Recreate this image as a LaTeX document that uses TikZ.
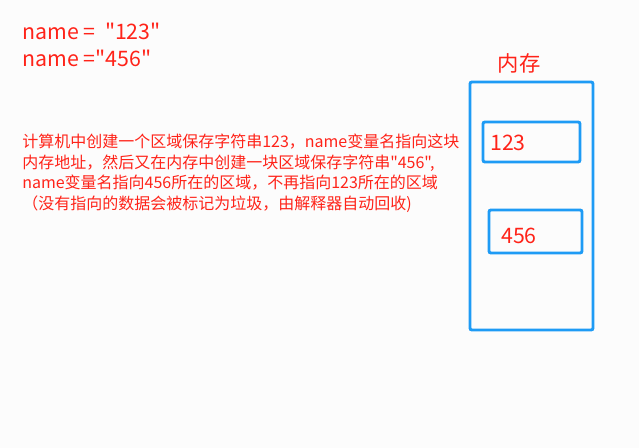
\documentclass[tikz,border=0pt]{standalone}
\usepackage{fontspec}
\setmainfont{Noto Sans CJK SC}[Ligatures=TeXOff]
\usepackage{xcolor}
\usepackage{tikz}
\usetikzlibrary{positioning}
\definecolor{txtred}{RGB}{255,35,25}
\definecolor{memblue}{RGB}{30,155,245}
\definecolor{bgwhite}{RGB}{252,252,252}
\tikzset{
  redtext/.style={text=txtred,inner sep=0pt},
  membox/.style={draw=memblue,line width=2.2pt,rounded corners=1.5pt,inner sep=0pt}
}

\begin{document}
\begin{tikzpicture}[x=0.75pt,y=-0.75pt]
\fill[bgwhite] (0,0) rectangle (639,448); \useasboundingbox (0,0) rectangle (639,448);
% assignments
\node[redtext,anchor=west,font=\fontsize{16pt}{18pt}\selectfont] (line1) at (22,31) {name = \ "123"};
\node[redtext,anchor=west,font=\fontsize{16pt}{18pt}\selectfont] (line2) at (22,58) {name ="456"};
% explanation
\node[redtext,anchor=north west,align=left,font=\fontsize{12pt}{15.3pt}\selectfont] (note) at (22,134)
  {计算机中创建一个区域保存字符串123，name变量名指向这块\\
   内存地址，然后又在内存中创建一块区域保存字符串"456",\\
   name变量名指向456所在的区域，不再指向123所在的区域\\
   （没有指向的数据会被标记为垃圾，由解释器自动回收)};
% memory
\node[membox,minimum width=123*0.75pt,minimum height=248*0.75pt] (mem) at (531.5,206) {};
\node[redtext,font=\fontsize{16pt}{18pt}\selectfont] (memlabel) at (519,63) {内存};
\node[membox,minimum width=97*0.75pt,minimum height=40*0.75pt] (cellA) at (531.5,142) {};
\node[membox,minimum width=93*0.75pt,minimum height=43*0.75pt] (cellB) at (535.5,231.5) {};
\node[redtext,anchor=west,font=\fontsize{16pt}{18pt}\selectfont] (valA) at (490,143) {123};
\node[redtext,anchor=west,font=\fontsize{16pt}{18pt}\selectfont] (valB) at (501,236) {456};
\end{tikzpicture}
\end{document}
